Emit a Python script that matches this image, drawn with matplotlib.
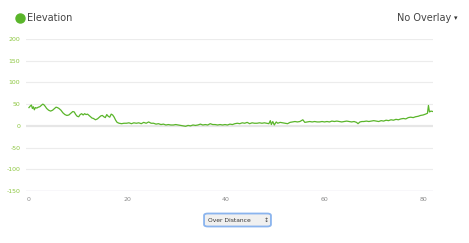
import matplotlib.pyplot as plt
from matplotlib.patches import FancyBboxPatch
from matplotlib.lines import Line2D

# elevation profile (km, m)
distance = [0.0, 0.3, 0.5, 0.7, 0.9, 1.1, 1.3, 1.6, 1.9, 2.2, 2.5, 2.8, 3.0, 3.3, 3.6,
            4.0, 4.4, 4.8, 5.2, 5.5, 5.8, 6.1, 6.5, 6.9, 7.3, 7.7, 8.1, 8.5, 8.9, 9.2,
            9.5, 9.8, 10.1, 10.4, 10.7, 11.0, 11.3, 11.6, 11.9, 12.2, 12.5, 12.8, 13.1,
            13.5, 13.9, 14.3, 14.6, 14.9, 15.2, 15.5, 15.8, 16.1, 16.4, 16.7, 17.0,
            17.3, 17.6, 17.9, 18.3, 18.8, 19.3, 19.8, 20.3, 20.8, 21.3, 21.8, 22.3,
            22.8, 23.3, 23.8, 24.3, 24.8, 25.3, 25.8, 26.3, 26.8, 27.3, 27.8, 28.3,
            28.8, 29.3, 29.8, 30.3, 30.8, 31.3, 31.8, 32.3, 32.8, 33.3, 33.8, 34.3,
            34.8, 35.3, 35.8, 36.3, 36.8, 37.3, 37.8, 38.3, 38.8, 39.3, 39.8, 40.3,
            40.8, 41.3, 41.8, 42.3, 42.8, 43.3, 43.8, 44.3, 44.8, 45.3, 45.8, 46.3,
            46.8, 47.3, 47.8, 48.3, 48.7, 49.0, 49.2, 49.5, 49.8, 50.2, 50.5, 51.0,
            51.5, 52.0, 52.5, 53.0, 53.5, 54.0, 54.5, 55.0, 55.6, 56.0, 56.5, 57.0,
            57.5, 58.0, 58.5, 59.0, 59.5, 60.0, 60.5, 61.0, 61.5, 62.0, 62.5, 63.0,
            63.5, 64.0, 64.5, 65.0, 65.5, 66.0, 66.5, 66.8, 67.2, 67.6, 68.0, 68.5,
            69.0, 69.5, 70.0, 70.5, 71.0, 71.5, 72.0, 72.5, 73.0, 73.5, 74.0, 74.5,
            75.0, 75.5, 76.0, 76.5, 77.0, 77.5, 78.0, 78.5, 79.0, 79.5, 80.0, 80.5,
            80.9, 81.1, 81.3, 81.6, 82.0]
elevation = [42, 46, 48, 40, 44, 37, 42, 41, 43, 44, 47, 50, 49, 45, 40,
             36, 34, 36, 40, 43, 42, 40, 36, 30, 26, 24, 25, 29, 33, 32,
             26, 22, 21, 26, 28, 25, 28, 26, 27, 24, 21, 18, 17,
             14, 16, 20, 23, 24, 21, 19, 26, 22, 20, 27, 25,
             20, 13, 8, 6, 5, 6, 6, 7, 5, 7, 6, 7,
             5, 8, 6, 9, 6, 6, 4, 5, 3, 4, 2, 3,
             2, 2, 3, 2, 1, 0, -1, 1, 0, 2, 1, 2,
             4, 2, 3, 2, 5, 3, 3, 2, 3, 2, 3, 2,
             4, 3, 5, 6, 5, 7, 6, 8, 5, 7, 6, 6,
             7, 6, 7, 6, 5, 12, 3, 10, 2, 9, 6, 8,
             7, 6, 5, 8, 9, 10, 9, 10, 14, 8, 9, 10,
             9, 10, 9, 9, 10, 9, 10, 9, 11, 10, 11, 10,
             9, 10, 11, 10, 9, 10, 8, 5, 9, 10, 10, 11,
             10, 11, 12, 11, 10, 12, 11, 13, 12, 14, 13, 15,
             14, 16, 17, 16, 19, 20, 19, 21, 22, 24, 25, 27,
             29, 47, 32, 34, 33]

y_ticks = [-150, -100, -50, 0, 50, 100, 150, 200]
x_ticks = [0, 20, 40, 60, 80]

line_green = "#5ab52a"
label_green = "#8cc63f"

fig = plt.figure(figsize=(4.69, 2.43), dpi=100)
ax = fig.add_axes([0.0554, 0.214, 0.8676, 0.6255])

# grid lines
for t in y_ticks:
    if t == 0:
        ax.axhline(t, color="#e6e6e6", lw=1.6, zorder=0)
    elif t == -150:
        ax.axhline(t, color="#dcdbe8", lw=1.0, zorder=0)
    else:
        ax.axhline(t, color="#ececec", lw=0.8, zorder=0)

ax.plot(distance, elevation, color=line_green, lw=0.9, zorder=2)

ax.set_xlim(-0.6, 82.0)
ax.set_ylim(-150, 200)
ax.set_yticks(y_ticks)
ax.set_yticklabels([str(t) for t in y_ticks], color=label_green, fontsize=4.5)
ax.set_xticks(x_ticks)
ax.set_xticklabels([str(t) for t in x_ticks], color="#8a8a8a", fontsize=4.5)
ax.tick_params(length=0, pad=4)
for s in ax.spines.values():
    s.set_visible(False)

# legend and overlay menu
fig.add_artist(Line2D([19.5 / 469], [1 - 18 / 243], marker="o", ms=6.5, color=line_green,
                      transform=fig.transFigure))
fig.text(27 / 469, 1 - 18 / 243, "Elevation", fontsize=7, color="#444444", va="center")
fig.text(451 / 469, 1 - 18 / 243, "No Overlay", fontsize=7, color="#444444",
         va="center", ha="right")
fig.text(456 / 469, 1 - 18.5 / 243, "\u25be", fontsize=5, color="#333333",
         va="center", ha="center")

# "Over Distance" select box
box = FancyBboxPatch((205 / 469, 1 - 226 / 243), 65 / 469, 12 / 243,
                     boxstyle="round,pad=0.002,rounding_size=0.008",
                     transform=fig.transFigure, facecolor="#f0f0f0",
                     edgecolor="#8ab4ee", lw=1.3, figure=fig)
fig.patches.append(box)
fig.text(208 / 469, 1 - 220 / 243, "Over Distance", fontsize=4.3, color="#333333", va="center")
fig.text(266 / 469, 1 - 220 / 243, "\u2195", fontsize=4.5, color="#444444",
         va="center", ha="center")

fig.savefig("out.png", dpi=100)
